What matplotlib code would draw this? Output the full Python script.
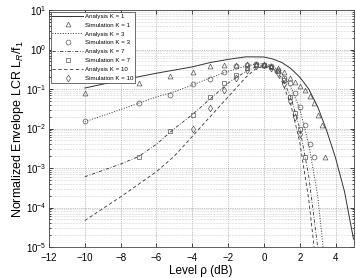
import matplotlib
matplotlib.use("Agg")
import matplotlib.pyplot as plt
import numpy as np

## Analysis curves
xa1 = [-10, -8, -6, -4, -3, -2, -1, 0, 0.5, 1, 1.5, 2, 2.5, 3, 3.5, 4, 4.5, 5]
ya1 = [0.106, 0.166, 0.251, 0.363, 0.468, 0.562, 0.653, 0.646, 0.575, 0.468, 0.331,
       0.2, 0.1, 0.0355, 0.0089, 0.00178, 0.00025, 0.0000158]

xa3 = [-10, -8, -7, -6, -5, -4, -3, -2, -1, -0.5, 0, 0.5, 1, 1.5, 2, 2.5, 3, 3.3]
ya3 = [0.0148, 0.0302, 0.0437, 0.0631, 0.0851, 0.126, 0.191, 0.282, 0.38, 0.427,
       0.437, 0.38, 0.251, 0.112, 0.0316, 0.004, 0.0002, 0.00001]

xa7 = [-10, -8, -7, -6, -5, -4, -3, -2, -1, -0.5, 0, 0.5, 1, 1.5, 2, 2.5, 3.0]
ya7 = [0.0006, 0.00126, 0.00195, 0.004, 0.01, 0.0224, 0.0562, 0.141, 0.282, 0.355,
       0.398, 0.339, 0.191, 0.063, 0.01, 0.00063, 0.00001]

xa10 = [-10, -8, -6, -5, -4, -3, -2, -1, -0.5, 0, 0.5, 1, 1.5, 2, 2.5, 2.8]
ya10 = [0.0000468, 0.000186, 0.00081, 0.002, 0.0063, 0.0200, 0.063, 0.2, 0.316,
        0.38, 0.316, 0.158, 0.04, 0.0045, 0.00016, 0.00001]

## Simulation points
xs = [-10, -6.99, -5.23, -3.98, -3.01, -2.22, -1.55, -0.97, -0.46, 0, 0.41, 0.79,
      1.14, 1.46, 1.76, 2.04, 2.30, 2.55, 2.79, 3.01, 3.22, 3.42]

ys1 = [0.079, 0.145, 0.214, 0.275, 0.372, 0.398, 0.417, 0.427, 0.427, 0.417, 0.389,
       0.339, 0.263, 0.195, 0.151, 0.120, 0.093, 0.065, 0.044, 0.022, 0.0123, 0.0019]
ys3 = [0.0158, 0.0437, 0.0708, 0.132, 0.178, 0.275, 0.372, 0.407, 0.427, 0.417,
       0.380, 0.302, 0.191, 0.141, 0.0794, 0.0355, 0.0126, 0.00398, 0.0019]
ys7 = [0.0019, 0.0087, 0.0224, 0.063, 0.138, 0.224, 0.331, 0.398, 0.417, 0.355,
       0.282, 0.166, 0.063, 0.0251, 0.010, 0.00186]
ys10 = [0.010, 0.0324, 0.093, 0.186, 0.302, 0.380, 0.398, 0.339, 0.251, 0.132,
        0.050, 0.020, 0.0072]

plt.rcParams['font.family'] = ['Liberation Sans', 'DejaVu Sans']
plt.rcParams['mathtext.fontset'] = 'custom'
plt.rcParams['mathtext.rm'] = 'Liberation Sans'
plt.rcParams['mathtext.it'] = 'Liberation Sans:italic'

fig = plt.figure(figsize=(3.56, 2.78), dpi=100)
ax = fig.add_axes([0.1376, 0.1115, 0.8554, 0.8525])

lc = '#333333'
mc = '#555555'
ax.plot(xa1, ya1, '-', color=lc, lw=0.7, label='Analysis K = 1')
ax.plot(xs, ys1, '^', ls='none', mfc='none', mec=mc, ms=3.5, mew=0.5, label='Simulation K = 1')
ax.plot(xa3, ya3, ':', color=lc, lw=0.7, label='Analysis K = 3')
ax.plot(xs[:len(ys3)], ys3, 'o', ls='none', mfc='none', mec=mc, ms=3.5, mew=0.5, label='Simulation K = 3')
ax.plot(xa7, ya7, '-.', color=lc, lw=0.6, dashes=(4, 2, 1, 2), label='Analysis K = 7')
ax.plot(xs[1:1 + len(ys7)], ys7, 's', ls='none', mfc='none', mec=mc, ms=3, mew=0.5, label='Simulation K = 7')
ax.plot(xa10, ya10, '--', color=lc, lw=0.6, dashes=(4, 3), label='Analysis K = 10')
ax.plot(xs[3:3 + len(ys10)], ys10, 'd', ls='none', mfc='none', mec=mc, ms=3.5, mew=0.5, label='Simulation K = 10')

ax.set_yscale('log')
ax.set_xlim(-12, 5)
ax.set_ylim(1e-5, 10)
ax.set_xticks([-12, -10, -8, -6, -4, -2, 0, 2, 4])
ax.set_xticklabels(['\u221212', '\u221210', '\u22128', '\u22126', '\u22124', '\u22122', '0', '2', '4'])
ax.set_yticks([1e-5, 1e-4, 1e-3, 1e-2, 1e-1, 1e0, 1e1])

ax.grid(True, which='major', ls=':', color='#888888', lw=0.5)
ax.grid(True, which='minor', axis='y', ls=':', color='#aaaaaa', lw=0.4)
ax.tick_params(which='both', direction='in', top=True, right=True, labelsize=7,
               width=0.5, length=3, pad=2)
ax.tick_params(axis='x', pad=4.5)
ax.tick_params(which='minor', length=1.5)
for s in ax.spines.values():
    s.set_linewidth(0.6)
    s.set_color('#444444')

ax.set_xlabel('Level \u03c1 (dB)', fontsize=8.5, labelpad=1)
ax.set_ylabel('Normalized Envelope LCR L$_R$/f$_1$', fontsize=9, labelpad=0)

leg = ax.legend(loc='upper left', fontsize=4.4, handlelength=5.0, labelspacing=0.6,
                handletextpad=0.3, borderpad=0.3, borderaxespad=0.25, fancybox=False,
                framealpha=1, edgecolor='#333333')
leg.get_frame().set_linewidth(0.5)

fig.savefig('out.png', dpi=100)
